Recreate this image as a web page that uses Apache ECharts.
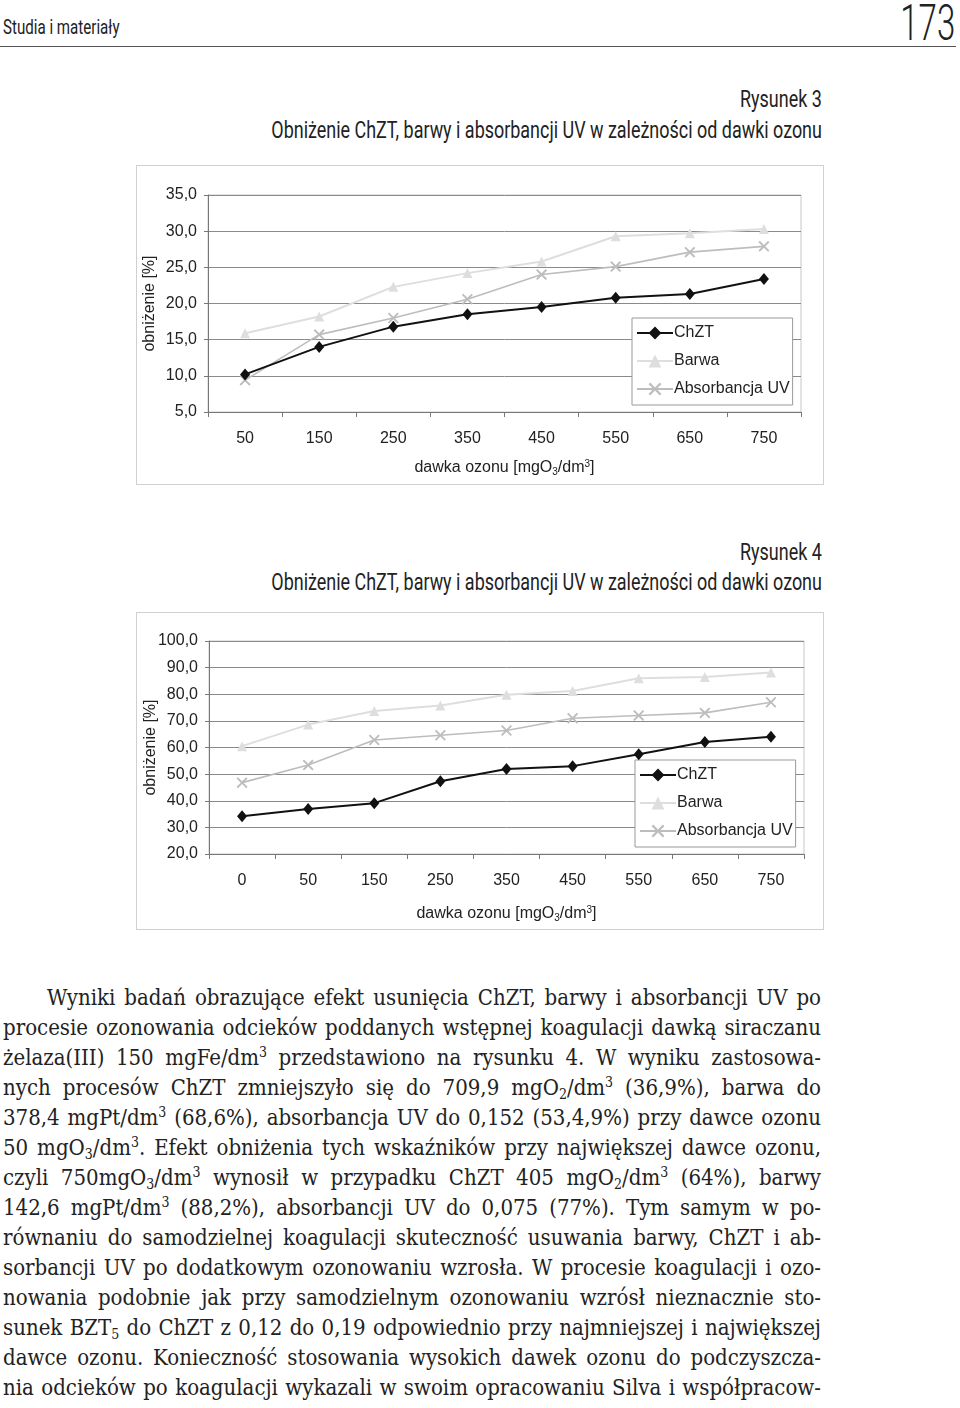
<!DOCTYPE html>
<html><head><meta charset="utf-8">
<script src="https://cdn.jsdelivr.net/npm/echarts@6/dist/echarts.min.js"></script>
<style>
html,body{margin:0;padding:0;background:#fff;}
body{width:960px;height:1408px;position:relative;overflow:hidden;color:#222;}
.cond{font-family:"Liberation Sans Narrow","Roboto","DejaVu Sans";white-space:nowrap;}
#hdr{position:absolute;left:3px;top:15px;font-size:21px;transform:scaleX(0.72);transform-origin:left center;}
#pg{position:absolute;right:5px;top:-6px;font-size:50px;transform:scaleX(0.66);transform-origin:right center;font-weight:300;}
#rule{position:absolute;left:0;top:46px;width:956px;height:0;border-top:1.5px solid #555;}
.cap{position:absolute;right:138px;font-size:23px;text-align:right;transform:scaleX(0.78);transform-origin:right center;}
.chart{position:absolute;left:136px;width:686px;border:1px solid #d0d0d0;background:#fff;}
#para{position:absolute;left:3px;top:983px;width:818px;font-family:"DejaVu Serif Condensed","DejaVu Serif",serif;font-stretch:condensed;font-size:22px;line-height:30px;color:#222;}
#para div{text-align:justify;text-align-last:justify;height:30px;white-space:nowrap;}
#para sub,#para sup{font-size:14px;line-height:0;}
#para sup{vertical-align:8px;}
#para sub{vertical-align:-4px;}
</style></head><body>
<div id="hdr" class="cond">Studia i materiały</div>
<div id="pg" class="cond">173</div>
<div id="rule"></div>
<div class="cap cond" style="top:86px">Rysunek 3</div>
<div class="cap cond" style="top:117px">Obniżenie ChZT, barwy i absorbancji UV w zależności od dawki ozonu</div>
<div id="c1" class="chart" style="top:165px;height:318px"></div>
<div class="cap cond" style="top:539px">Rysunek 4</div>
<div class="cap cond" style="top:569px">Obniżenie ChZT, barwy i absorbancji UV w zależności od dawki ozonu</div>
<div id="c2" class="chart" style="top:612px;height:316px"></div>
<div id="para">
<div style="padding-left:44px">Wyniki badań obrazujące efekt usunięcia ChZT, barwy i absorbancji UV po</div>
<div>procesie ozonowania odcieków poddanych wstępnej koagulacji dawką siraczanu</div>
<div>żelaza(III) 150 mgFe/dm<sup>3</sup> przedstawiono na rysunku 4. W wyniku zastosowa-</div>
<div>nych procesów ChZT zmniejszyło się do 709,9 mgO<sub>2</sub>/dm<sup>3</sup> (36,9%), barwa do</div>
<div>378,4 mgPt/dm<sup>3</sup> (68,6%), absorbancja UV do 0,152 (53,4,9%) przy dawce ozonu</div>
<div>50 mgO<sub>3</sub>/dm<sup>3</sup>. Efekt obniżenia tych wskaźników przy największej dawce ozonu,</div>
<div>czyli 750mgO<sub>3</sub>/dm<sup>3</sup> wynosił w przypadku ChZT 405 mgO<sub>2</sub>/dm<sup>3</sup> (64%), barwy</div>
<div>142,6 mgPt/dm<sup>3</sup> (88,2%), absorbancji UV do 0,075 (77%). Tym samym w po-</div>
<div>równaniu do samodzielnej koagulacji skuteczność usuwania barwy, ChZT i ab-</div>
<div>sorbancji UV po dodatkowym ozonowaniu wzrosła. W procesie koagulacji i ozo-</div>
<div>nowania podobnie jak przy samodzielnym ozonowaniu wzrósł nieznacznie sto-</div>
<div>sunek BZT<sub>5</sub> do ChZT z 0,12 do 0,19 odpowiednio przy najmniejszej i największej</div>
<div>dawce ozonu. Konieczność stosowania wysokich dawek ozonu do podczyszcza-</div>
<div>nia odcieków po koagulacji wykazali w swoim opracowaniu Silva i współpracow-</div>
</div>
<script>
// Rysunek 3
const doses3 = ['50','150','250','350','450','550','650','750'];
const chzt3 = [10.2, 14.0, 16.8, 18.5, 19.5, 20.8, 21.3, 23.4];
const barwa3 = [15.9, 18.2, 22.3, 24.2, 25.8, 29.3, 29.7, 30.3];
const uv3 = [9.4, 15.7, 18.0, 20.6, 24.0, 25.1, 27.1, 27.9];
// Rysunek 4
const doses4 = ['0','50','150','250','350','450','550','650','750'];
const chzt4 = [34.2, 36.9, 39.1, 47.3, 51.9, 53.0, 57.5, 62.1, 64.0];
const barwa4 = [60.5, 68.6, 73.7, 75.8, 79.8, 81.2, 86.0, 86.5, 88.2];
const uv4 = [46.8, 53.4, 62.8, 64.6, 66.4, 71.0, 72.0, 73.0, 77.0];
const seriesNames = ['ChZT', 'Barwa', 'Absorbancja UV'];

const FONT = '"Liberation Sans", Arial, sans-serif';
const XSYM = 'path://M0,1.2L1.2,0L5,3.8L8.8,0L10,1.2L6.2,5L10,8.8L8.8,10L5,6.2L1.2,10L0,8.8L3.8,5Z';

function makeOption(cats, a, b, c, ymin, ymax, yint, grid, legendPos, xGap, yGap) {
  const nm = {
    a: {fontFamily: FONT, fontSize: 16, color: '#222'},
    sub: {fontFamily: FONT, fontSize: 10, color: '#222', verticalAlign: 'bottom', padding: [6, 0, 0, 0]},
    sup: {fontFamily: FONT, fontSize: 10, color: '#222', verticalAlign: 'top', padding: [0, 0, 8, 0]}
  };
  return {
    animation: false,
    backgroundColor: '#fff',
    textStyle: {fontFamily: FONT},
    grid: Object.assign({show: true, borderColor: '#c8c8c8', borderWidth: 1, backgroundColor: '#fff',
      containLabel: false, outerBoundsMode: 'none'}, grid),
    legend: Object.assign({
      orient: 'vertical', data: seriesNames,
      backgroundColor: '#fff', borderColor: '#999', borderWidth: 1,
      padding: [7, 3, 8, 4], itemGap: 12, itemWidth: 36, itemHeight: 16,
      textStyle: {fontFamily: FONT, fontSize: 16, color: '#222', padding: [0, 0, 0, -4]}
    }, legendPos),
    xAxis: {
      type: 'category', data: cats, boundaryGap: true,
      axisLine: {lineStyle: {color: '#777', width: 1}},
      axisTick: {show: true, length: 5, lineStyle: {color: '#777'}},
      axisLabel: {fontFamily: FONT, fontSize: 16, color: '#222', margin: 19},
      name: '{a|dawka ozonu [mgO}{sub|3}{a|/dm}{sup|3}{a|]}',
      nameLocation: 'middle', nameGap: xGap, nameMoveOverlap: false,
      nameTextStyle: {rich: nm}
    },
    yAxis: {
      type: 'value', min: ymin, max: ymax, interval: yint,
      axisLine: {show: true, lineStyle: {color: '#777'}},
      axisTick: {show: true, length: 4, lineStyle: {color: '#777'}},
      axisLabel: {fontFamily: FONT, fontSize: 16, color: '#222', margin: 11,
        formatter: v => v.toFixed(1).replace('.', ',')},
      splitLine: {lineStyle: {color: '#8a8a8a', width: 1}},
      name: 'obniżenie [%]', nameLocation: 'middle', nameGap: yGap, nameMoveOverlap: false,
      nameTextStyle: {fontFamily: FONT, fontSize: 16, color: '#222'}
    },
    series: [
      {name: seriesNames[0], type: 'line', data: a, symbol: 'diamond', symbolSize: [10, 12],
        lineStyle: {color: '#111', width: 2}, itemStyle: {color: '#111'}, z: 5},
      {name: seriesNames[1], type: 'line', data: b, symbol: 'triangle', symbolSize: 10,
        lineStyle: {color: '#dedede', width: 2}, itemStyle: {color: '#dedede'}, z: 3},
      {name: seriesNames[2], type: 'line', data: c, symbol: XSYM, symbolSize: 11,
        lineStyle: {color: '#bdbdbd', width: 1.6}, itemStyle: {color: '#bdbdbd'}, z: 4}
    ]
  };
}

const ch1 = echarts.init(document.getElementById('c1'), null, {renderer: 'canvas'});
ch1.setOption(makeOption(doses3, chzt3, barwa3, uv3, 5, 35, 5,
  {left: 71, right: 22, top: 29, bottom: 72}, {left: 495, top: 152}, 47, 50));
const ch2 = echarts.init(document.getElementById('c2'), null, {renderer: 'canvas'});
ch2.setOption(makeOption(doses4, chzt4, barwa4, uv4, 20, 100, 10,
  {left: 72, right: 19, top: 28, bottom: 75}, {left: 498, top: 147}, 51, 50));
</script>
</body></html>
